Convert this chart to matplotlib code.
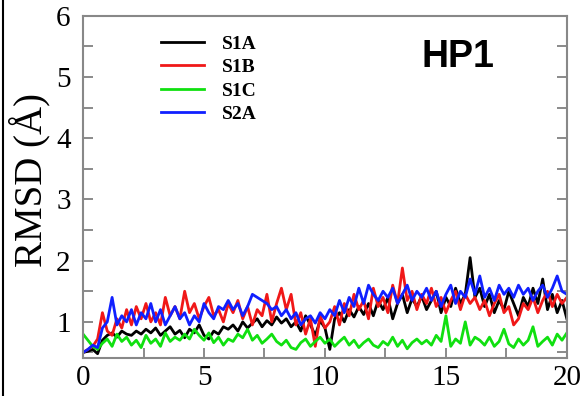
import numpy as np
import matplotlib.pyplot as plt
from matplotlib.lines import Line2D
from matplotlib.ticker import MultipleLocator

# tiempo (ns), paso de 0.2
t = np.arange(101) * 0.2

s1a = [0.50, 0.52, 0.55, 0.48, 0.70, 0.78, 0.82, 0.75, 0.85, 0.80, 0.78,
       0.85, 0.80, 0.88, 0.82, 0.90, 0.78, 0.85, 0.92, 0.80, 0.86,
       0.74, 0.88, 0.82, 0.95, 0.78, 0.72, 0.85, 0.80, 0.92, 0.88,
       0.95, 0.85, 1.00, 0.90, 0.98, 1.05, 0.92, 1.02, 0.95, 1.08,
       0.98, 1.05, 0.92, 1.00, 0.85, 1.10, 0.95, 0.78, 1.02, 0.90,
       0.55, 1.05, 1.15, 1.00, 1.20, 1.08, 1.25, 1.12, 1.30, 1.10,
       1.35, 1.20, 1.40, 1.05, 1.30, 1.45, 1.15, 1.38, 1.25, 1.42,
       1.20, 1.35, 1.50, 1.15, 1.40, 1.25, 1.55, 1.30, 1.45, 2.05,
       1.40, 1.55, 1.25, 1.45, 1.15, 1.35, 1.20, 1.50, 1.30, 1.10,
       1.40, 1.25, 1.55, 1.30, 1.70, 1.20, 1.45, 1.15, 1.35, 1.05]

s1b = [0.50, 0.55, 0.60, 0.72, 1.15, 0.85, 0.78, 1.05, 0.90, 1.20, 0.95,
       1.25, 1.05, 1.30, 1.00, 1.15, 0.95, 1.40, 1.10, 1.25, 1.05,
       1.50, 1.15, 1.30, 1.05, 1.25, 1.40, 1.10, 1.20, 1.00, 1.30,
       1.15, 1.35, 1.05, 1.25, 0.95, 1.20, 1.10, 1.45, 1.00, 1.30,
       1.55, 1.20, 1.45, 0.95, 1.15, 0.80, 1.05, 0.60, 1.10, 0.90,
       1.00, 1.25, 0.95, 1.30, 1.10, 1.45, 1.20, 1.35, 1.05, 1.55,
       1.25, 1.40, 1.15, 1.60, 1.30, 1.88, 1.35, 1.50, 1.20, 1.45,
       1.30, 1.55, 1.25, 1.40, 1.15, 1.35, 1.50, 1.20, 1.45, 1.30,
       1.40, 1.20, 1.35, 1.10, 1.30, 1.45, 1.15, 1.25, 0.95, 1.05,
       1.30, 1.20, 1.40, 1.15, 1.35, 1.50, 1.25, 1.45, 1.30, 1.40]

s1c = [0.80, 0.70, 0.60, 0.55, 0.65, 0.72, 0.60, 0.80, 0.68, 0.75, 0.62,
       0.70, 0.58, 0.78, 0.65, 0.72, 0.60, 0.82, 0.68, 0.75, 0.70,
       0.80, 0.72, 0.88, 0.78, 0.70, 0.82, 0.66, 0.75, 0.62, 0.72,
       0.68, 0.80, 0.74, 0.88, 0.70, 0.78, 0.65, 0.72, 0.80, 0.68,
       0.62, 0.70, 0.58, 0.55, 0.66, 0.72, 0.60, 0.68, 0.75, 0.65,
       0.72, 0.60, 0.68, 0.75, 0.62, 0.70, 0.58, 0.66, 0.72, 0.62,
       0.58, 0.68, 0.62, 0.75, 0.60, 0.70, 0.56, 0.66, 0.72, 0.64,
       0.70, 0.62, 0.78, 0.68, 1.10, 0.60, 0.72, 0.65, 1.00, 0.62,
       0.75, 0.70, 0.62, 0.75, 0.60, 0.68, 0.88, 0.64, 0.58, 0.72,
       0.62, 0.70, 0.92, 0.60, 0.68, 0.75, 0.62, 0.80, 0.70, 0.82]

s2a = [0.50, 0.55, 0.62, 0.58, 0.90, 1.00, 1.40, 0.95, 1.10, 1.00, 1.20,
       0.95, 1.15, 1.05, 1.30, 1.00, 1.20, 0.95, 1.10, 1.25, 1.05,
       1.15, 0.95, 1.10, 1.00, 1.30, 1.15, 1.05, 1.25, 1.20, 1.35,
       1.20, 1.30, 1.10, 1.25, 1.45, 1.40, 1.35, 1.30, 1.20, 1.25,
       1.10, 1.20, 1.05, 1.15, 0.95, 1.05, 1.10, 0.98, 1.15, 1.05,
       1.20, 1.10, 1.35, 1.15, 1.40, 1.25, 1.55, 1.30, 1.60, 1.45,
       1.35, 1.50, 1.40, 1.55, 1.30, 1.45, 1.60, 1.35, 1.50, 1.40,
       1.55, 1.35, 1.50, 1.25, 1.45, 1.60, 1.30, 1.50, 1.40, 1.70,
       1.45, 1.75, 1.40, 1.55, 1.35, 1.60, 1.45, 1.55, 1.40, 1.60,
       1.45, 1.55, 1.35, 1.50, 1.60, 1.40, 1.55, 1.75, 1.50, 1.45]

nombres = ['S1A', 'S1B', 'S1C', 'S2A']
colores = ['black', '#f01818', '#10e010', '#1020ff']

fig = plt.figure(figsize=(5.85, 3.96), dpi=100)
ax = fig.add_axes([0.142, 0.096, 0.827, 0.864])

for serie, nombre, color in zip([s1a, s1b, s1c, s2a], nombres, colores):
    ax.plot(t, serie, color=color, lw=2.0, label=nombre)

ax.set_xlim(0, 20)
ax.set_ylim(0.41, 6)
ax.xaxis.set_major_locator(MultipleLocator(5))
ax.xaxis.set_minor_locator(MultipleLocator(2.5))
ax.yaxis.set_major_locator(MultipleLocator(1))
ax.yaxis.set_minor_locator(MultipleLocator(0.5))
ax.tick_params(which='both', direction='in', right=True, color='#777777',
               length=7, width=1.2)
ax.tick_params(axis='y', pad=9)
ax.tick_params(axis='x', pad=5)
for lab in ax.get_xticklabels() + ax.get_yticklabels():
    lab.set_family('Liberation Serif')
    lab.set_fontsize(21)
for sp in ax.spines.values():
    sp.set_color('#888888')
    sp.set_linewidth(1.5)

ax.set_ylabel('RMSD (Å)', family='Liberation Serif', fontsize=28)
ax.yaxis.set_label_coords(-0.068, 0.52)

ax.legend(loc='upper left', bbox_to_anchor=(0.125, 0.995), frameon=False,
          prop={'family': 'Liberation Serif', 'weight': 'bold', 'size': 14},
          handlelength=2.2, handletextpad=0.95, labelspacing=0.3)

fig.text(0.783, 0.856, 'HP1', family='Liberation Sans', weight='bold',
         fontsize=27, ha='center', va='center')
fig.add_artist(Line2D([0.005, 0.005], [0, 1], color='black', lw=1.5))

fig.savefig('out.png', dpi=100)
